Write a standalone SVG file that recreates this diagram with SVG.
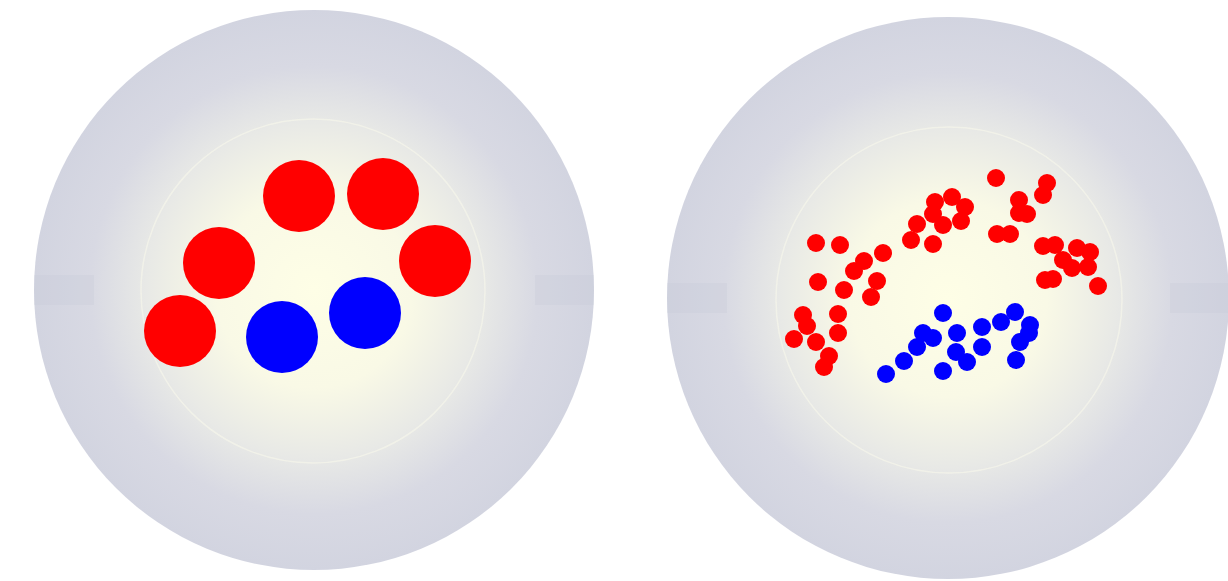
<svg xmlns="http://www.w3.org/2000/svg" width="1228" height="581" viewBox="0 0 1228 581">
<style>
.r{fill:#ff0000}
.b{fill:#0000ff}
.ring{fill:none;stroke:#f4f4ea;stroke-width:1.5;opacity:0.8}
</style>
<defs>
<radialGradient id="bg" cx="0.5" cy="0.5" r="0.5">
<stop offset="0" stop-color="#fefee6"/>
<stop offset="0.35" stop-color="#f9f9e6"/>
<stop offset="0.6" stop-color="#e8e9e6"/>
<stop offset="0.8" stop-color="#d8d9e3"/>
<stop offset="1" stop-color="#d2d4e0"/>
</radialGradient>
<clipPath id="cl"><circle cx="314" cy="290" r="280"/></clipPath>
<clipPath id="cr"><circle cx="948" cy="298" r="281"/></clipPath>
</defs>
<rect width="1228" height="581" fill="#ffffff"/>
<g id="left-disc">
<circle cx="314" cy="290" r="280" fill="url(#bg)"/>
<g clip-path="url(#cl)" fill="#c8cad8" opacity="0.3">
<rect x="34" y="275" width="60" height="30"/>
<rect x="535" y="275" width="60" height="30"/>
</g>
<circle class="ring" cx="313" cy="291" r="172"/>
</g>
<g id="left-dots">
<circle class="r" cx="299" cy="196" r="36"/>
<circle class="r" cx="383" cy="194" r="36"/>
<circle class="r" cx="219" cy="263" r="36"/>
<circle class="r" cx="435" cy="261" r="36"/>
<circle class="r" cx="180" cy="331" r="36"/>
<circle class="b" cx="282" cy="337" r="36"/>
<circle class="b" cx="365" cy="313" r="36"/>
</g>
<g id="right-disc">
<circle cx="948" cy="298" r="281" fill="url(#bg)"/>
<g clip-path="url(#cr)" fill="#c8cad8" opacity="0.3">
<rect x="667" y="283" width="60" height="30"/>
<rect x="1170" y="283" width="60" height="30"/>
</g>
<circle class="ring" cx="949" cy="300" r="173"/>
</g>
<g id="right-red">
<circle class="r" cx="816" cy="243" r="9"/>
<circle class="r" cx="840" cy="245" r="9"/>
<circle class="r" cx="883" cy="253" r="9"/>
<circle class="r" cx="864" cy="261" r="9"/>
<circle class="r" cx="854" cy="271" r="9"/>
<circle class="r" cx="818" cy="282" r="9"/>
<circle class="r" cx="844" cy="290" r="9"/>
<circle class="r" cx="877" cy="281" r="9"/>
<circle class="r" cx="871" cy="297" r="9"/>
<circle class="r" cx="803" cy="315" r="9"/>
<circle class="r" cx="838" cy="314" r="9"/>
<circle class="r" cx="807" cy="326" r="9"/>
<circle class="r" cx="794" cy="339" r="9"/>
<circle class="r" cx="816" cy="342" r="9"/>
<circle class="r" cx="838" cy="333" r="9"/>
<circle class="r" cx="829" cy="356" r="9"/>
<circle class="r" cx="824" cy="367" r="9"/>
<circle class="r" cx="996" cy="178" r="9"/>
<circle class="r" cx="1047" cy="183" r="9"/>
<circle class="r" cx="1043" cy="195" r="9"/>
<circle class="r" cx="935" cy="202" r="9"/>
<circle class="r" cx="952" cy="197" r="9"/>
<circle class="r" cx="965" cy="207" r="9"/>
<circle class="r" cx="933" cy="214" r="9"/>
<circle class="r" cx="943" cy="225" r="9"/>
<circle class="r" cx="961" cy="221" r="9"/>
<circle class="r" cx="917" cy="224" r="9"/>
<circle class="r" cx="911" cy="240" r="9"/>
<circle class="r" cx="933" cy="244" r="9"/>
<circle class="r" cx="1019" cy="200" r="9"/>
<circle class="r" cx="1019" cy="213" r="9"/>
<circle class="r" cx="1027" cy="214" r="9"/>
<circle class="r" cx="997" cy="234" r="9"/>
<circle class="r" cx="1010" cy="234" r="9"/>
<circle class="r" cx="1043" cy="246" r="9"/>
<circle class="r" cx="1055" cy="245" r="9"/>
<circle class="r" cx="1077" cy="248" r="9"/>
<circle class="r" cx="1090" cy="252" r="9"/>
<circle class="r" cx="1063" cy="260" r="9"/>
<circle class="r" cx="1072" cy="268" r="9"/>
<circle class="r" cx="1088" cy="267" r="9"/>
<circle class="r" cx="1045" cy="280" r="9"/>
<circle class="r" cx="1053" cy="279" r="9"/>
<circle class="r" cx="1098" cy="286" r="9"/>
</g>
<g id="right-blue">
<circle class="b" cx="943" cy="313" r="9"/>
<circle class="b" cx="1015" cy="312" r="9"/>
<circle class="b" cx="1001" cy="322" r="9"/>
<circle class="b" cx="1030" cy="325" r="9"/>
<circle class="b" cx="982" cy="327" r="9"/>
<circle class="b" cx="957" cy="333" r="9"/>
<circle class="b" cx="923" cy="333" r="9"/>
<circle class="b" cx="933" cy="338" r="9"/>
<circle class="b" cx="1029" cy="333" r="9"/>
<circle class="b" cx="1020" cy="342" r="9"/>
<circle class="b" cx="982" cy="347" r="9"/>
<circle class="b" cx="917" cy="347" r="9"/>
<circle class="b" cx="956" cy="352" r="9"/>
<circle class="b" cx="967" cy="362" r="9"/>
<circle class="b" cx="904" cy="361" r="9"/>
<circle class="b" cx="1016" cy="360" r="9"/>
<circle class="b" cx="943" cy="371" r="9"/>
<circle class="b" cx="886" cy="374" r="9"/>
</g>
</svg>
